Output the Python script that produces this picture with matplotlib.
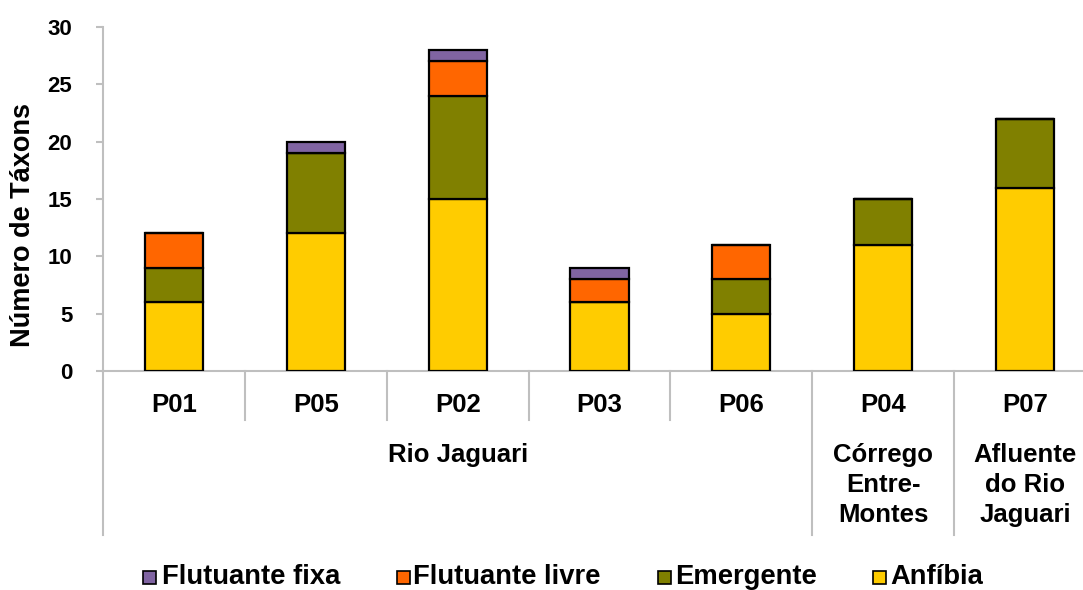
import matplotlib
matplotlib.use("Agg")
import matplotlib.pyplot as plt
from matplotlib.patches import Rectangle
from matplotlib.lines import Line2D
import matplotlib.transforms as mtransforms

categories = ["P01", "P05", "P02", "P03", "P06", "P04", "P07"]
anfibia = [6, 12, 15, 6, 5, 11, 16]
emergente = [3, 7, 9, 0, 3, 4, 6]
flut_livre = [3, 0, 3, 2, 3, 0, 0]
flut_fixa = [0, 1, 1, 1, 0, 0, 0]
groups = [("Rio Jaguari", 0, 4), ("Córrego\nEntre-\nMontes", 5, 5), ("Afluente\ndo Rio\nJaguari", 6, 6)]
yticks = [0, 5, 10, 15, 20, 25, 30]
legend_labels = ["Flutuante fixa", "Flutuante livre", "Emergente", "Anfíbia"]

plt.rcParams['font.family'] = ['Liberation Sans', 'DejaVu Sans']
plt.rcParams['font.weight'] = 'bold'

W, H = 1083, 590
fig = plt.figure(figsize=(W / 100, H / 100), dpi=100)
left_px, right_px, top_px, bot_px = 103, 1096, 27, 371
ax = fig.add_axes([left_px / W, 1 - bot_px / H, (right_px - left_px) / W, (bot_px - top_px) / H])

colors = {"Anfíbia": "#FFCC00", "Emergente": "#808000", "Flutuante livre": "#FF6600", "Flutuante fixa": "#8064A2"}
x = list(range(len(categories)))
bw = 0.41
bottom = [0] * len(x)
series = [("Anfíbia", anfibia), ("Emergente", emergente), ("Flutuante livre", flut_livre), ("Flutuante fixa", flut_fixa)]
for name, vals in series:
    ax.bar(x, vals, bw, bottom=bottom, color=colors[name], edgecolor='black', linewidth=1.6, zorder=3)
    bottom = [b + v for b, v in zip(bottom, vals)]

ax.set_xlim(-0.5, len(x) - 0.5)
ax.set_ylim(0, 30)
ax.set_yticks(yticks)
ax.set_yticklabels([str(t) for t in yticks], fontsize=16, fontweight='bold')
ax.set_xticks([])
for s in ['top', 'right']:
    ax.spines[s].set_visible(False)
for s in ['left', 'bottom']:
    ax.spines[s].set_color('#BFBFBF')
    ax.spines[s].set_linewidth(1.5)
ax.tick_params(axis='y', color='#BFBFBF', width=1.5, length=5, pad=17)
fig.text(23 / W, 1 - 225 / H, "Número de Táxons", rotation=90, ha='center', va='center',
         fontsize=19.5, fontweight='bold')

trans = mtransforms.blended_transform_factory(ax.transData, ax.transAxes)
ax_h = bot_px - top_px
for i, c in enumerate(categories):
    ax.text(i, -(405 - bot_px) / ax_h, c, transform=trans, ha='center', va='center', fontsize=18.5, fontweight='bold')

# short ticks between categories
for b in [0.5, 1.5, 2.5, 3.5]:
    ax.add_line(Line2D([b, b], [0, -49 / ax_h], transform=trans, color='#BFBFBF', lw=1.5, clip_on=False))
# group separators
for b in [-0.5, 4.5, 5.5]:
    ax.add_line(Line2D([b, b], [0, -164 / ax_h], transform=trans, color='#BFBFBF', lw=1.5, clip_on=False))

for name, i0, i1 in groups:
    xc = (i0 + i1) / 2
    ax.text(xc, -(443 - bot_px) / ax_h, name, transform=trans, ha='center', va='top', fontsize=18.5,
            fontweight='bold', linespacing=1.31)

# legend
sq_x = [143, 397, 658, 873]
txt_x = [162, 413, 675, 890]
for n, sx, tx in zip(legend_labels, sq_x, txt_x):
    fig.patches.append(Rectangle((sx / W, 1 - 584 / H), 13 / W, 13 / H, transform=fig.transFigure,
                                 facecolor=colors[n], edgecolor='black', linewidth=1.2))
    fig.text(tx / W, 1 - 583.5 / H, n, ha='left', va='baseline', fontsize=19.7, fontweight='bold')

fig.savefig("out.png", dpi=100)
